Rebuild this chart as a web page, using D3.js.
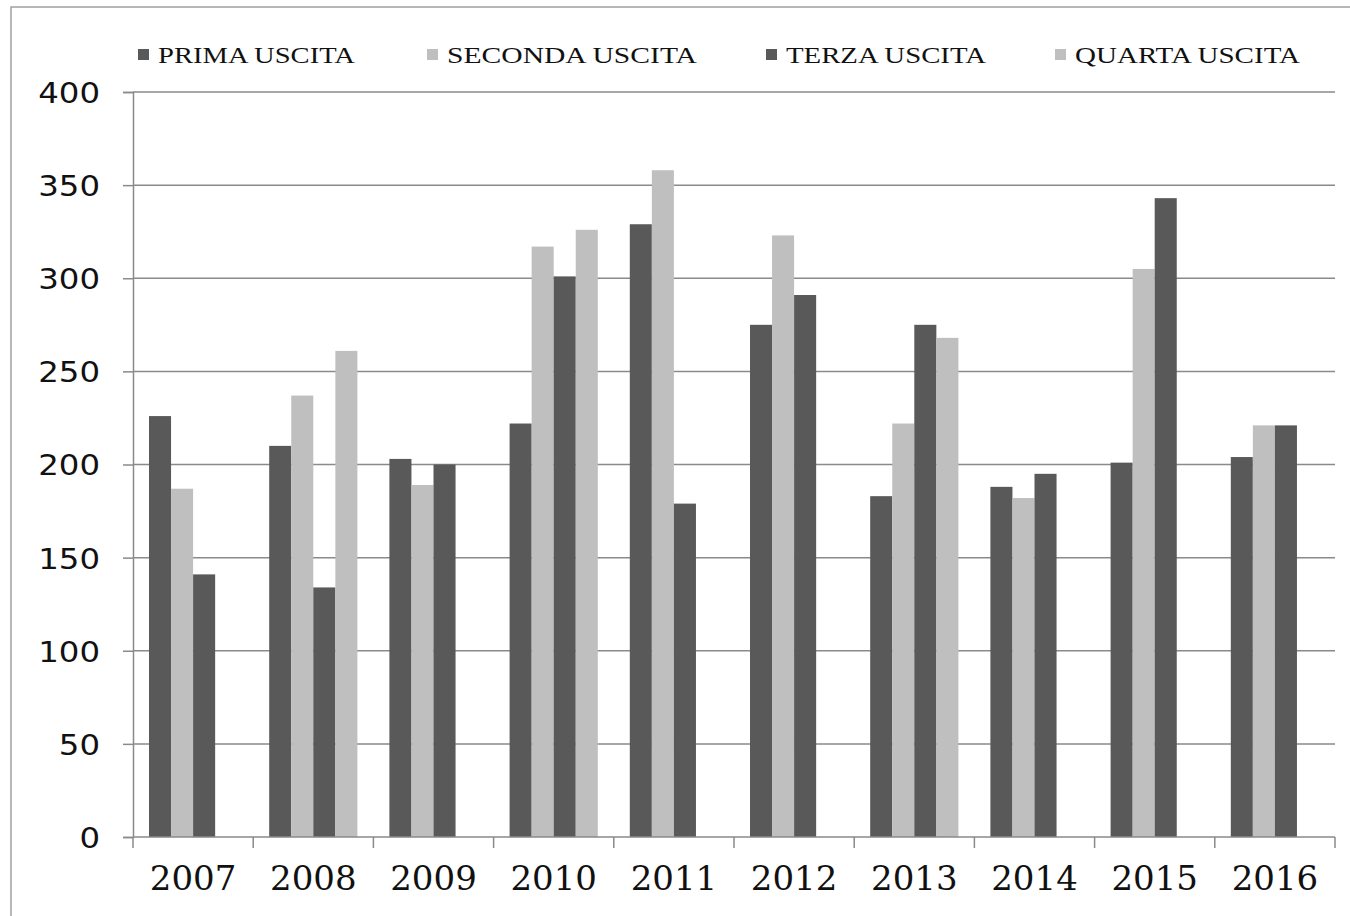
<!DOCTYPE html>
<html><head><meta charset="utf-8">
<script src="https://cdn.jsdelivr.net/npm/d3@7"></script>
<style>html,body{margin:0;padding:0;background:#fff;}svg{display:block;}</style>
</head><body>
<svg id="chart" width="1350" height="916"></svg>
<script>
const categories = ["2007","2008","2009","2010","2011","2012","2013","2014","2015","2016"];
const seriesNames = ["PRIMA USCITA","SECONDA USCITA","TERZA USCITA","QUARTA USCITA"];
const prima   = [226,210,203,222,329,275,183,188,201,204];
const seconda = [187,237,189,317,358,323,222,182,305,221];
const terza   = [141,134,200,301,179,291,275,195,343,221];
const quarta  = [null,261,null,326,null,null,268,null,null,null];
const yTicks  = [0,50,100,150,200,250,300,350,400];

const seriesValues = [prima, seconda, terza, quarta];
const colors = ["#595959","#bfbfbf","#595959","#bfbfbf"];

const svg = d3.select("#chart");
const plotLeft = 133, plotRight = 1335, plotTop = 92, plotBottom = 837;

// outer frame
svg.append("rect").attr("x",11).attr("y",7).attr("width",1345).attr("height",920)
  .attr("fill","none").attr("stroke","#a0a0a0").attr("stroke-width",1.5);

const x0 = d3.scaleBand().domain(categories).range([plotLeft,plotRight]).padding(0);
const x1 = d3.scaleBand().domain(seriesNames).range([16, x0.bandwidth()-16]).padding(0);
const y = d3.scaleLinear().domain([0,400]).range([plotBottom,plotTop]);

// gridlines
svg.append("g").selectAll("line").data(yTicks.filter(d=>d>0)).join("line")
  .attr("x1",plotLeft).attr("x2",plotRight)
  .attr("y1",d=>y(d)).attr("y2",d=>y(d))
  .attr("stroke","#8a8a8a").attr("stroke-width",1.5);

// bars
const flat = [];
categories.forEach((c,i)=>{
  seriesNames.forEach((s,j)=>{
    const v = seriesValues[j][i];
    if (v!==null && v!==undefined) flat.push({c,s,v,j});
  });
});
svg.append("g").selectAll("rect").data(flat).join("rect")
  .attr("x",d=>x0(d.c)+x1(d.s))
  .attr("width",x1.bandwidth())
  .attr("y",d=>y(d.v))
  .attr("height",d=>y(0)-y(d.v))
  .attr("fill",d=>colors[d.j]);

// y axis
const yAxis = d3.axisLeft(y).tickValues(yTicks).tickSize(10).tickPadding(23);
const gy = svg.append("g").attr("transform",`translate(${plotLeft},0)`).call(yAxis);
gy.select(".domain").attr("stroke","#8a8a8a").attr("stroke-width",1.5);
gy.selectAll(".tick line").attr("stroke","#8a8a8a").attr("stroke-width",1.5);
gy.selectAll(".tick text").attr("font-family","'DejaVu Sans', sans-serif")
  .attr("font-size","29px").attr("fill","#111").attr("dy","0.36em")
  .attr("textLength",d=>String(d).length*20.6).attr("lengthAdjust","spacingAndGlyphs");

// x axis
const gx = svg.append("g").attr("transform",`translate(0,${plotBottom})`);
gx.append("line").attr("x1",plotLeft).attr("x2",plotRight).attr("y1",0).attr("y2",0)
  .attr("stroke","#8a8a8a").attr("stroke-width",1.5);
const boundaries = categories.map(c=>x0(c)).concat([plotRight]);
gx.selectAll("line.tk").data(boundaries).join("line").attr("class","tk")
  .attr("x1",d=>d).attr("x2",d=>d).attr("y1",0).attr("y2",11)
  .attr("stroke","#8a8a8a").attr("stroke-width",1.5);
gx.selectAll("text").data(categories).join("text")
  .attr("x",d=>x0(d)+x0.bandwidth()/2)
  .attr("y",53)
  .attr("text-anchor","middle")
  .attr("font-family","'DejaVu Serif', serif")
  .attr("font-size","34px").attr("fill","#111")
  .text(d=>d);

// legend
const legendTextX = [158,447,786,1075];
const legendTextW = [197,250,200,225];
const lg = svg.append("g");
seriesNames.forEach((s,j)=>{
  lg.append("rect").attr("x",legendTextX[j]-20).attr("y",49)
    .attr("width",11).attr("height",11).attr("fill",colors[j]);
  lg.append("text").attr("x",legendTextX[j]).attr("y",63)
    .attr("font-family","'Liberation Serif', serif").attr("font-size","23px")
    .attr("fill","#111")
    .attr("textLength",legendTextW[j]).attr("lengthAdjust","spacingAndGlyphs")
    .text(s);
});
</script>
</body></html>
